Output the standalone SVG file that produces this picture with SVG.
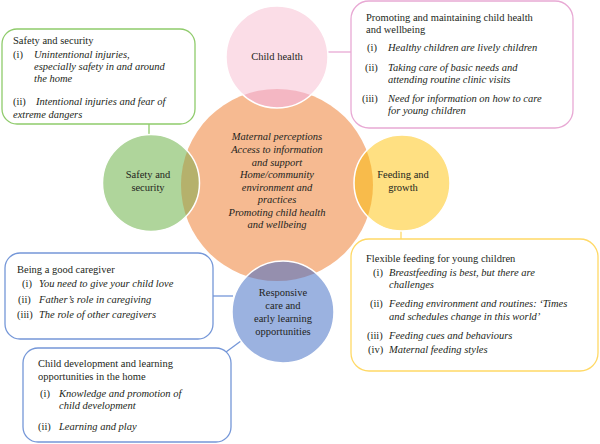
<svg xmlns="http://www.w3.org/2000/svg" width="600" height="444" viewBox="0 0 600 444">
<defs>
<clipPath id="cc"><circle cx="277" cy="185" r="96"/></clipPath>
<style>
text{font-family:"Liberation Serif","Times New Roman",serif;font-size:10.5px;fill:#231F20}
.i{font-style:italic}
.m{text-anchor:middle}
.box{fill:#fff;stroke-width:1.3}
.ol{fill:none;stroke:#fff;stroke-width:1.5}
.ln{fill:none;stroke-width:1.3}
</style>
</defs>
<rect width="600" height="444" fill="#fff"/>

<g id="connectors">
<line class="ln" x1="149" y1="124" x2="149" y2="136" stroke="#8FCB6B"/>
<line class="ln" x1="327" y1="52" x2="351" y2="52" stroke="#E8A9D4"/>
<line class="ln" x1="401" y1="230" x2="401" y2="240" stroke="#FFD966"/>
<line class="ln" x1="212" y1="296" x2="233" y2="296" stroke="#7597D8"/>
<line class="ln" x1="226" y1="352" x2="245" y2="338" stroke="#7597D8"/>
</g>

<g id="center">
<circle cx="277" cy="185" r="96" fill="#F6BA91"/>
<text class="i m" x="277" y="140">Maternal perceptions</text>
<text class="i m" x="277" y="153">Access to information</text>
<text class="i m" x="277" y="165.5">and support</text>
<text class="i m" x="277" y="178">Home/community</text>
<text class="i m" x="277" y="190.5">environment and</text>
<text class="i m" x="277" y="203">practices</text>
<text class="i m" x="277" y="215.5">Promoting child health</text>
<text class="i m" x="277" y="228">and wellbeing</text>
</g>

<g id="child-health">
<circle cx="277" cy="57" r="51" fill="#FBDDE7"/>
<circle cx="277" cy="57" r="51" fill="#F4B7C3" clip-path="url(#cc)"/>
<circle class="ol" cx="277" cy="57" r="51"/>
<text class="m" x="277" y="60">Child health</text>
</g>

<g id="safety">
<circle cx="151" cy="183" r="48.5" fill="#AFD59B"/>
<circle cx="151" cy="183" r="48.5" fill="#B5B16C" clip-path="url(#cc)"/>
<circle class="ol" cx="151" cy="183" r="48.5"/>
<text class="m" x="148" y="178">Safety and</text>
<text class="m" x="148" y="190.5">security</text>
</g>

<g id="feeding">
<circle cx="402" cy="183" r="48" fill="#FFE082"/>
<circle cx="402" cy="183" r="48" fill="#F8BB4B" clip-path="url(#cc)"/>
<circle class="ol" cx="402" cy="183" r="48"/>
<text class="m" x="403" y="178">Feeding and</text>
<text class="m" x="403" y="190.5">growth</text>
</g>

<g id="responsive">
<circle cx="283" cy="312" r="51" fill="#9BB2E0"/>
<circle cx="283" cy="312" r="51" fill="#958FAE" clip-path="url(#cc)"/>
<circle class="ol" cx="283" cy="312" r="51"/>
<text class="m" x="283" y="296">Responsive</text>
<text class="m" x="283" y="309">care and</text>
<text class="m" x="283" y="322">early learning</text>
<text class="m" x="283" y="335">opportunities</text>
</g>

<g id="box-safety">
<rect class="box" x="2" y="29" width="193" height="95" rx="15" stroke="#8FCB6B"/>
<text x="13" y="44">Safety and security</text>
<text x="13" y="58">(i)</text>
<text class="i" x="34" y="58">Unintentional injuries,</text>
<text class="i" x="34" y="70">especially safety in and around</text>
<text class="i" x="34" y="82">the home</text>
<text x="13" y="105">(ii)</text>
<text class="i" x="36" y="105">Intentional injuries and fear of</text>
<text class="i" x="13" y="118">extreme dangers</text>
</g>

<g id="box-health">
<rect class="box" x="351" y="1" width="222" height="127" rx="18" stroke="#E8A9D4"/>
<text x="366" y="21">Promoting and maintaining child health</text>
<text x="366" y="33">and wellbeing</text>
<text x="367" y="51">(i)</text>
<text class="i" x="388" y="51">Healthy children are lively children</text>
<text x="365" y="71">(ii)</text>
<text class="i" x="388" y="71">Taking care of basic needs and</text>
<text class="i" x="388" y="83">attending routine clinic visits</text>
<text x="362" y="102">(iii)</text>
<text class="i" x="388" y="102">Need for information on how to care</text>
<text class="i" x="388" y="114">for young children</text>
</g>

<g id="box-feeding">
<rect class="box" x="351" y="239" width="247" height="132" rx="18" stroke="#FFD966"/>
<text x="366" y="262">Flexible feeding for young children</text>
<text x="373" y="276">(i)</text>
<text class="i" x="389" y="276">Breastfeeding is best, but there are</text>
<text class="i" x="389" y="288">challenges</text>
<text x="370" y="307">(ii)</text>
<text class="i" x="389" y="307">Feeding environment and routines: ‘Times</text>
<text class="i" x="389" y="320">and schedules change in this world’</text>
<text x="367" y="339">(iii)</text>
<text class="i" x="389" y="339">Feeding cues and behaviours</text>
<text x="368" y="353">(iv)</text>
<text class="i" x="389" y="353">Maternal feeding styles</text>
</g>

<g id="box-caregiver">
<rect class="box" x="5" y="253" width="208" height="86" rx="15" stroke="#7597D8"/>
<text x="17" y="273">Being a good caregiver</text>
<text x="22" y="287">(i)</text>
<text class="i" x="39" y="287">You need to give your child love</text>
<text x="18" y="303">(ii)</text>
<text class="i" x="39" y="303">Father’s role in caregiving</text>
<text x="17" y="318">(iii)</text>
<text class="i" x="39" y="318">The role of other caregivers</text>
</g>

<g id="box-development">
<rect class="box" x="23" y="348" width="208" height="94" rx="15" stroke="#7597D8"/>
<text x="38" y="367">Child development and learning</text>
<text x="38" y="380">opportunities in the home</text>
<text x="40" y="397">(i)</text>
<text class="i" x="59" y="397">Knowledge and promotion of</text>
<text class="i" x="59" y="409">child development</text>
<text x="38" y="430">(ii)</text>
<text class="i" x="59" y="430">Learning and play</text>
</g>
</svg>
